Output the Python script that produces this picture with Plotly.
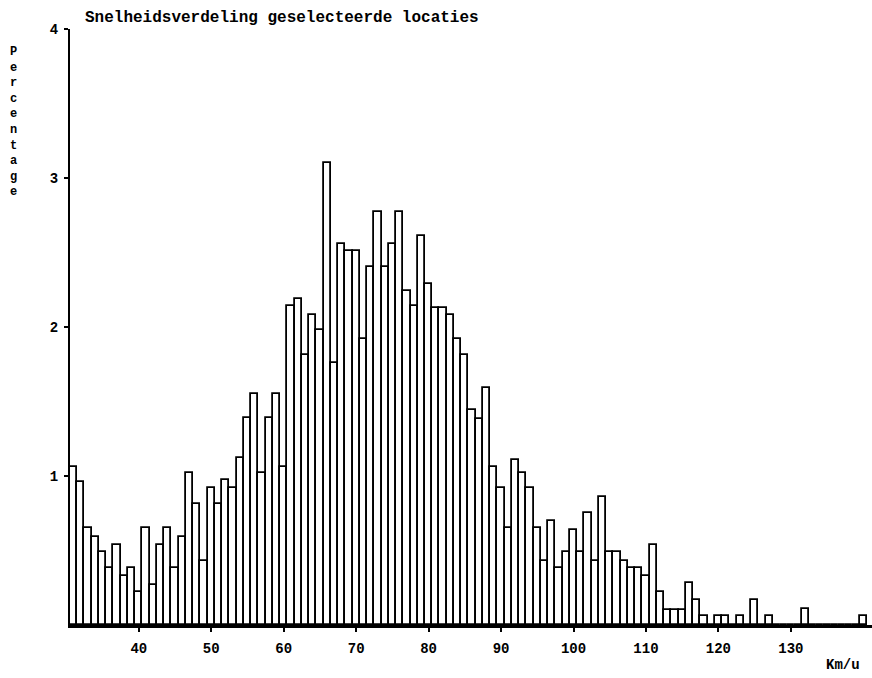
import plotly.graph_objects as go

# Speed classes (km/h), one bar per km/h
speeds = list(range(31, 141))

# Percentage per speed class
percentages = [
    1.06, 0.96, 0.65, 0.59, 0.49, 0.38, 0.54, 0.33, 0.38, 0.22,   # 31-40
    0.65, 0.27, 0.54, 0.65, 0.38, 0.59, 1.02, 0.81, 0.43, 0.92,   # 41-50
    0.81, 0.97, 0.92, 1.12, 1.39, 1.55, 1.02, 1.39, 1.55, 1.06,   # 51-60
    2.14, 2.19, 1.81, 2.08, 1.98, 3.10, 1.76, 2.56, 2.51, 2.51,   # 61-70
    1.92, 2.40, 2.77, 2.40, 2.56, 2.77, 2.24, 2.14, 2.61, 2.29,   # 71-80
    2.13, 2.13, 2.08, 1.92, 1.81, 1.44, 1.38, 1.59, 1.06, 0.92,   # 81-90
    0.65, 1.11, 1.02, 0.92, 0.65, 0.43, 0.70, 0.38, 0.49, 0.64,   # 91-100
    0.49, 0.75, 0.43, 0.86, 0.49, 0.49, 0.43, 0.38, 0.38, 0.33,   # 101-110
    0.54, 0.22, 0.10, 0.10, 0.10, 0.28, 0.17, 0.06, 0.00, 0.06,   # 111-120
    0.06, 0.00, 0.06, 0.00, 0.17, 0.00, 0.06, 0.00, 0.00, 0.00,   # 121-130
    0.00, 0.11, 0.00, 0.00, 0.00, 0.00, 0.00, 0.00, 0.00, 0.06,   # 131-140
]

x_ticks = [40, 50, 60, 70, 80, 90, 100, 110, 120, 130]
y_ticks = [1, 2, 3, 4]

title_text = "Snelheidsverdeling geselecteerde locaties"
y_title = "Percentage"
x_title = "Km/u"

MONO = "Liberation Mono, DejaVu Sans Mono, monospace"

fig = go.Figure(
    go.Bar(
        x=speeds,
        y=percentages,
        width=1,
        marker=dict(color="white", line=dict(color="black", width=1.8)),
        hoverinfo="x+y",
    )
)

W, H = 872, 678
ML, MR, MT, MB = 70, 0, 29, 53
PW = W - ML - MR
PH = H - MT - MB

def px_x(p):
    return (p - ML) / PW

def px_y(p):
    return 1 - (p - MT) / PH

fig.update_layout(
    width=W,
    height=H,
    margin=dict(l=ML, r=MR, t=MT, b=MB),
    paper_bgcolor="white",
    plot_bgcolor="white",
    showlegend=False,
    bargap=0,
    xaxis=dict(
        range=[30.5, 141.2],
        tickvals=x_ticks,
        ticktext=[str(v) for v in x_ticks],
        ticks="outside",
        ticklen=4,
        tickwidth=1.5,
        tickcolor="black",
        ticklabelstandoff=4,
        showline=True,
        linecolor="black",
        linewidth=2.5,
        showgrid=False,
        zeroline=False,
        tickfont=dict(family=MONO, size=14, color="black", weight="bold"),
    ),
    yaxis=dict(
        range=[0, 4],
        tickvals=y_ticks,
        ticktext=[str(v) for v in y_ticks],
        ticks="outside",
        ticklen=4,
        tickwidth=1.5,
        tickcolor="black",
        ticklabelstandoff=3,
        showline=True,
        linecolor="black",
        linewidth=2,
        showgrid=False,
        zeroline=False,
        tickfont=dict(family=MONO, size=14, color="black", weight="bold"),
    ),
    annotations=[
        dict(
            text=title_text,
            xref="paper", yref="paper",
            x=px_x(83), y=px_y(18),
            xanchor="left", yanchor="middle",
            showarrow=False,
            font=dict(family=MONO, size=16, color="black", weight="bold"),
        ),
        dict(
            text="<br>".join(list(y_title)),
            xref="paper", yref="paper",
            x=px_x(13), y=px_y(122),
            xanchor="center", yanchor="middle",
            showarrow=False,
            font=dict(family=MONO, size=12, color="black", weight="bold"),
        ),
        dict(
            text=x_title,
            xref="paper", yref="paper",
            x=px_x(843), y=px_y(665),
            xanchor="center", yanchor="middle",
            showarrow=False,
            font=dict(family=MONO, size=14, color="black", weight="bold"),
        ),
    ],
)

fig.write_html("out.html")
